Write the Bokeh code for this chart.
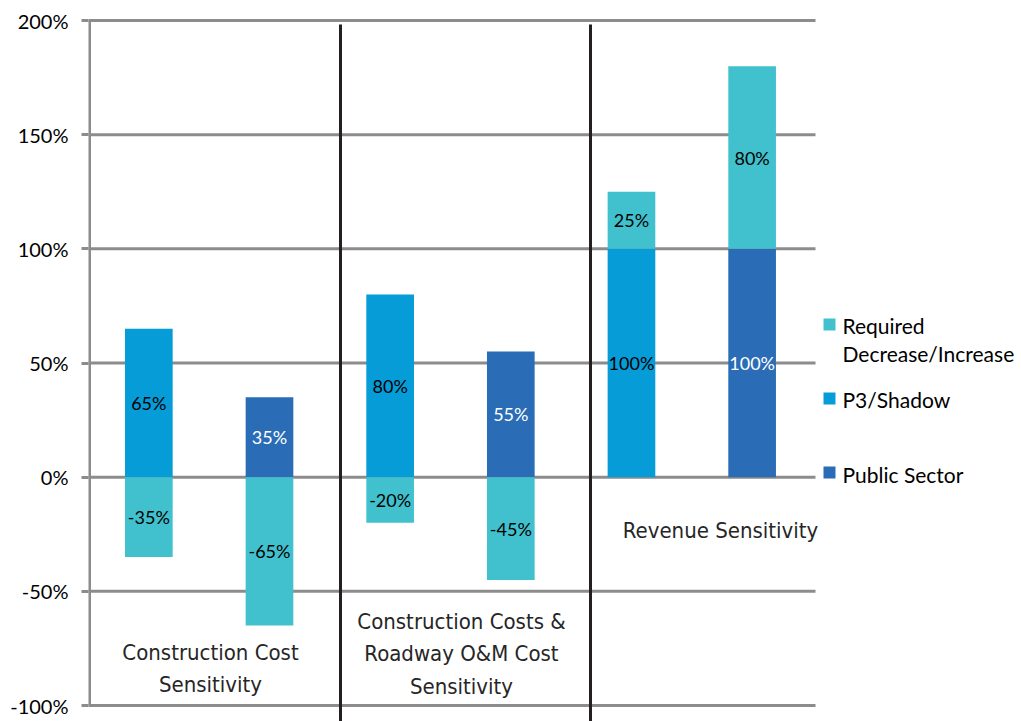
from bokeh.plotting import figure
from bokeh.models import ColumnDataSource, Range1d, FixedTicker
from bokeh.core.properties import value
from bokeh.embed import file_html
from bokeh.resources import INLINE

# ---- data ----
group_labels = ["Construction Cost\nSensitivity",
                "Construction Costs &\nRoadway O&M Cost\nSensitivity",
                "Revenue Sensitivity"]
bar_scenario = ["P3/Shadow", "Public Sector", "P3/Shadow", "Public Sector", "P3/Shadow", "Public Sector"]
base_values = [65, 35, 80, 55, 100, 100]
required_values = [-35, -65, -20, -45, 25, 80]
tick_values = [-100, -50, 0, 50, 100, 150, 200]
tick_labels = ["-100%", "-50%", "0%", "50%", "100%", "150%", "200%"]
legend_names = ["Required\nDecrease/Increase", "P3/Shadow", "Public Sector"]

# ---- styling ----
C_REQ = "#40C1CD"
C_P3 = "#069CD8"
C_PUB = "#2A6DB6"
C_GRID = "#8C8C8C"
scen_color = {"P3/Shadow": C_P3, "Public Sector": C_PUB}
scen_text = {"P3/Shadow": "#000000", "Public Sector": "#FFFFFF"}
NARROW = "'DejaVu Sans Condensed', 'Liberation Sans Narrow', Roboto, sans-serif"

W, H = 1021, 721
LEFT = 88
SLOT = 120.66            # px per bar slot
PX_PER = 685 / 300.0     # px per percent
Y_TOP = 200 + 20 / PX_PER
Y_BOT = -100 - (H - 705) / PX_PER
X_END = (W - LEFT) / SLOT

def dx(px):  # screen x -> data x
    return (px - LEFT) / SLOT

def dy(py):  # screen y -> data y
    return Y_TOP - py / PX_PER

p = figure(width=W, height=H, output_backend="svg", toolbar_location=None,
           x_range=Range1d(0, X_END), y_range=Range1d(Y_BOT, Y_TOP),
           x_axis_location=None, min_border_left=LEFT, min_border_right=0,
           min_border_top=0, min_border_bottom=0)
p.outline_line_color = None
p.grid.visible = False
p.background_fill_color = "white"
p.border_fill_color = "white"

# y axis
ax = p.yaxis[0]
ax.ticker = FixedTicker(ticks=tick_values)
ax.major_label_overrides = {v: l for v, l in zip(tick_values, tick_labels)}
ax.axis_line_color = None
ax.major_tick_out = 7
ax.major_tick_in = 0
ax.major_tick_line_color = C_GRID
ax.major_tick_line_width = 3
ax.minor_tick_line_color = None
ax.major_label_text_font = "Lato"
ax.major_label_text_font_size = "20px"
ax.major_label_text_color = "#000000"
ax.major_label_standoff = 13

# gridlines and axis line
n = len(base_values)
p.segment(x0=[0] * len(tick_values), x1=[dx(815)] * len(tick_values),
          y0=tick_values, y1=tick_values, line_color=C_GRID, line_width=3)
p.segment(x0=[dx(89)], x1=[dx(89)], y0=[tick_values[0]], y1=[tick_values[-1]],
          line_color=C_GRID, line_width=3)

# bars
xs = [i + 0.5 for i in range(n)]
bw = 0.395
main_src = ColumnDataSource(dict(
    x=xs, top=base_values, bottom=[0] * n,
    color=[scen_color[s] for s in bar_scenario],
    tcolor=[scen_text[s] for s in bar_scenario],
    label=[f"{v}%" for v in base_values],
    ymid=[v / 2 for v in base_values]))
req_bottom = [0 if r < 0 else b for b, r in zip(base_values, required_values)]
req_top = [r if r < 0 else b + r for b, r in zip(base_values, required_values)]
req_src = ColumnDataSource(dict(
    x=xs, top=req_top, bottom=req_bottom,
    label=[f"{v}%" for v in required_values],
    ymid=[(a + b) / 2 for a, b in zip(req_top, req_bottom)]))

p.vbar(x="x", top="top", bottom="bottom", width=bw, source=main_src,
       fill_color="color", line_color=None)
p.vbar(x="x", top="top", bottom="bottom", width=bw, source=req_src,
       fill_color=C_REQ, line_color=None)

p.text(x="x", y="ymid", text="label", source=main_src, text_color="tcolor",
       text_font=value("Lato"), text_font_size="18px",
       text_align="center", text_baseline="middle")
p.text(x="x", y="ymid", text="label", source=req_src, text_color="#000000",
       text_font=value("Lato"), text_font_size="18px",
       text_align="center", text_baseline="middle")

# group separators
p.segment(x0=[dx(340), dx(590)], x1=[dx(340), dx(590)],
          y0=[dy(24)] * 2, y1=[Y_BOT - 5] * 2, line_color="#231F20", line_width=3)

# group labels
p.text(x=[dx(210), dx(461), dx(720)], y=[dy(668), dy(653), dy(530)],
       text=group_labels, text_color="#262626",
       text_font=value(NARROW), text_font_size="22px",
       text_align="center", text_baseline="middle", text_line_height=1.3)

# legend
leg_colors = [C_REQ, C_P3, C_PUB]
p.scatter(x=[dx(829)] * 3, y=[dy(324), dy(398), dy(472)], marker="square",
          size=12, fill_color=leg_colors, line_color=None)
p.text(x=[dx(842)] * 3, y=[dy(324), dy(398), dy(473)], text=legend_names,
       text_color="#000000", text_font=value("Lato"), text_font_size="21px",
       text_align="left", text_baseline="top", y_offset=-12, text_line_height=1.12)

open("out.html", "w").write(file_html(p, INLINE))
